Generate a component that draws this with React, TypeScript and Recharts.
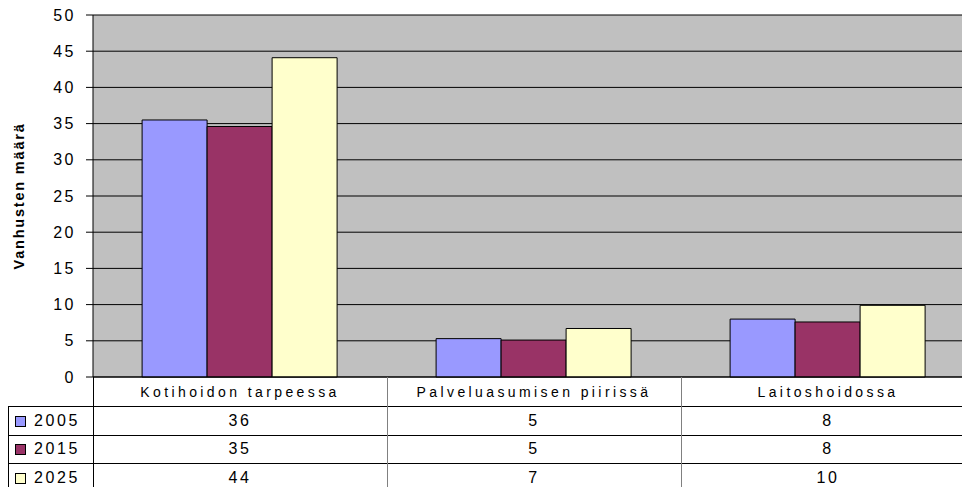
import { BarChart, Bar, XAxis, YAxis, CartesianGrid } from 'recharts';

const CATEGORIES = ['Kotihoidon tarpeessa', 'Palveluasumisen piirissä', 'Laitoshoidossa'];
const YEARS = ['2005', '2015', '2025'];
const VALUES_2005 = [35.5, 5.3, 8.0];
const VALUES_2015 = [34.6, 5.1, 7.6];
const VALUES_2025 = [44.1, 6.7, 9.9];
const Y_TICKS = [0, 5, 10, 15, 20, 25, 30, 35, 40, 45, 50];
const COLORS = ['#9999FF', '#993366', '#FFFFCC'];

const SERIES = [VALUES_2005, VALUES_2015, VALUES_2025];

const data = CATEGORIES.map((cat, i) => ({
  cat,
  y2005: VALUES_2005[i],
  y2015: VALUES_2015[i],
  y2025: VALUES_2025[i],
}));

// geometry of the plot area (chart is wider than the window, clipped on the right)
const CHART_W = 980;
const CHART_H = 487;
const PLOT_LEFT = 93;
const PLOT_RIGHT = 975;
const AXIS_Y = 377;
const ROW_LINES = [406.5, 435, 463.5];
const FONT = 'Arial, "Liberation Sans", sans-serif';

function DataTable() {
  const band = (PLOT_RIGHT - PLOT_LEFT) / CATEGORIES.length;
  const line = (style: React.CSSProperties, key: string) => (
    <div key={key} style={{ position: 'absolute', ...style }} />
  );
  return (
    <div style={{ position: 'absolute', left: 0, top: 0, width: 962, height: CHART_H, pointerEvents: 'none', fontFamily: FONT }}>
      {ROW_LINES.map((y, i) =>
        line({ left: 8, top: Math.floor(y), width: 962 - 8, height: 1, background: '#000' }, 'h' + i)
      )}
      {line({ left: 8, top: ROW_LINES[0], width: 1, height: CHART_H - ROW_LINES[0], background: '#000' }, 'v0')}
      {line({ left: PLOT_LEFT, top: AXIS_Y, width: 1, height: CHART_H - AXIS_Y, background: '#000' }, 'v1')}
      {[1, 2].map(k =>
        line({ left: Math.round(PLOT_LEFT + band * k), top: AXIS_Y, width: 1, height: CHART_H - AXIS_Y, background: '#808080' }, 'vc' + k)
      )}
      {YEARS.map((year, r) => {
        const top = ROW_LINES[r];
        const h = r < 2 ? ROW_LINES[r + 1] - top : 28;
        return (
          <div key={year}>
            <div style={{ position: 'absolute', left: 15, top: top + h / 2 - 5, width: 9, height: 9, background: COLORS[r], border: '1px solid #000' }} />
            <div style={{ position: 'absolute', left: 34, top, height: h, lineHeight: h + 'px', fontSize: 16, letterSpacing: 2.6, color: '#000' }}>{year}</div>
            {SERIES[r].map((v, c) => (
              <div key={c} style={{ position: 'absolute', left: PLOT_LEFT + band * c, width: band, top, height: h, lineHeight: h + 'px', textAlign: 'center', fontSize: 16, letterSpacing: 2.6, color: '#000' }}>
                {Math.round(v)}
              </div>
            ))}
          </div>
        );
      })}
    </div>
  );
}

export default function App() {
  return (
    <div style={{ position: 'absolute', left: 0, top: 0, width: 962, height: CHART_H, overflow: 'hidden', background: '#fff' }}>
      <BarChart
        width={CHART_W}
        height={CHART_H}
        data={data}
        margin={{ top: 15, right: CHART_W - PLOT_RIGHT, left: 0, bottom: CHART_H - ROW_LINES[0] }}
        barCategoryGap="16.7%"
        barGap={0}
      >
        <CartesianGrid vertical={false} stroke="#000" fill="#C0C0C0" fillOpacity={1} />
        <XAxis
          dataKey="cat"
          height={ROW_LINES[0] - AXIS_Y}
          axisLine={{ stroke: '#000' }}
          tickLine={false}
          tick={{ fill: '#000', fontSize: 14, letterSpacing: 3.4, fontFamily: FONT }}
          tickMargin={4}
          interval={0}
        />
        <YAxis
          width={PLOT_LEFT}
          domain={[0, 50]}
          ticks={Y_TICKS}
          axisLine={{ stroke: '#000' }}
          tickLine={{ stroke: '#000' }}
          tickSize={7}
          tickMargin={10}
          tick={{ fill: '#000', fontSize: 16, letterSpacing: 2.5, fontFamily: FONT }}
          label={{ value: 'Vanhusten määrä', angle: -90, position: 'insideLeft', offset: 19, style: { fontWeight: 'bold', fontSize: 14.5, letterSpacing: 1.8, fill: '#000', fontFamily: FONT, textAnchor: 'middle' } }}
        />
        {YEARS.map((year, i) => (
          <Bar key={year} dataKey={'y' + year} name={year} fill={COLORS[i]} stroke="#000" strokeWidth={1} isAnimationActive={false} />
        ))}
      </BarChart>
      <DataTable />
    </div>
  );
}
